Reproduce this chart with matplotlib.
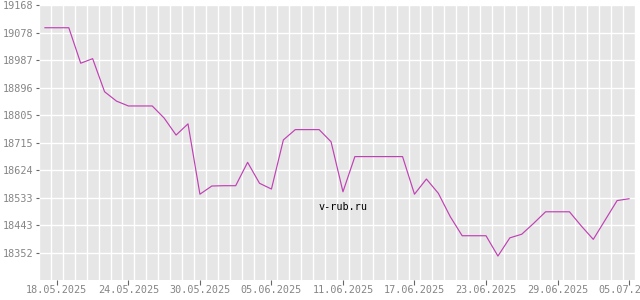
import matplotlib
matplotlib.use("Agg")
import matplotlib.pyplot as plt
import numpy as np
from datetime import datetime, timedelta

# данные: курс по дням
dates = ["17.05.2025", "18.05.2025", "19.05.2025", "20.05.2025", "21.05.2025",
         "22.05.2025", "23.05.2025", "24.05.2025", "25.05.2025", "26.05.2025",
         "27.05.2025", "28.05.2025", "29.05.2025", "30.05.2025", "31.05.2025",
         "01.06.2025", "02.06.2025", "03.06.2025", "04.06.2025", "05.06.2025",
         "06.06.2025", "07.06.2025", "08.06.2025", "09.06.2025", "10.06.2025",
         "11.06.2025", "12.06.2025", "13.06.2025", "14.06.2025", "15.06.2025",
         "16.06.2025", "17.06.2025", "18.06.2025", "19.06.2025", "20.06.2025",
         "21.06.2025", "22.06.2025", "23.06.2025", "24.06.2025", "25.06.2025",
         "26.06.2025", "27.06.2025", "28.06.2025", "29.06.2025", "30.06.2025",
         "01.07.2025", "02.07.2025", "03.07.2025", "04.07.2025", "05.07.2025"]
values = [19094, 19094, 19094, 18977, 18992,
          18883, 18852, 18836, 18836, 18836,
          18796, 18740, 18777, 18545, 18572,
          18573, 18573, 18650, 18581, 18562,
          18724, 18758, 18758, 18758, 18718,
          18553, 18669, 18669, 18669, 18669,
          18669, 18545, 18595, 18548, 18471,
          18408, 18408, 18408, 18341, 18401,
          18413, 18449, 18487, 18487, 18487,
          18440, 18396, 18460, 18524, 18530]

y_ticks = [18352, 18443, 18533, 18624, 18715, 18805, 18896, 18987, 19078, 19168]
y_min, y_max = 18262, 19168
x_tick_labels = ["18.05.2025", "24.05.2025", "30.05.2025", "05.06.2025", "11.06.2025",
                 "17.06.2025", "23.06.2025", "29.06.2025", "05.07.2025"]

x = [datetime.strptime(d, "%d.%m.%Y") for d in dates]
xt = [datetime.strptime(d, "%d.%m.%Y") for d in x_tick_labels]

plt.rcParams['font.family'] = ['DejaVu Sans Mono']

fig = plt.figure(figsize=(6.4, 3.0), dpi=100)
ax = fig.add_axes([39/640, 1-280/300, (635-39)/640, (280-5.3)/300])
ax.set_facecolor('#e6e6e6')
for s in ax.spines.values():
    s.set_visible(False)

ax.plot(x, values, color='#c040b4', lw=0.85)

ax.set_ylim(y_min, y_max)
ax.set_yticks(y_ticks)
ax.set_yticklabels([str(v) for v in y_ticks])
ax.set_xlim(x[0] - timedelta(hours=8.5), x[-1] + timedelta(hours=8.5))
ax.set_xticks(xt)
ax.set_xticklabels(x_tick_labels)

# вертикальная сетка посередине дней
noon = [d + timedelta(hours=12) for d in x]
noon = [x[0] - timedelta(hours=12)] + noon
ax.set_xticks(noon, minor=True)
ax.tick_params(axis='x', which='minor', length=0)
ax.grid(True, axis='x', which='minor', color='white', lw=1.0)
ax.grid(True, axis='y', which='major', color='white', lw=1.0)
ax.set_axisbelow(True)

ax.tick_params(axis='both', which='major', labelsize=7.3, labelcolor='#858585', color='#666666')
ax.tick_params(axis='x', which='major', length=3.6, width=0.8, pad=0)
ax.tick_params(axis='y', which='major', length=2.2, width=0.8, pad=1.5)

ax.text(0.51, 0.265, "v-rub.ru", transform=ax.transAxes, ha='center', va='center',
        fontsize=7.3, color='black')

fig.savefig("out.png", dpi=100)
